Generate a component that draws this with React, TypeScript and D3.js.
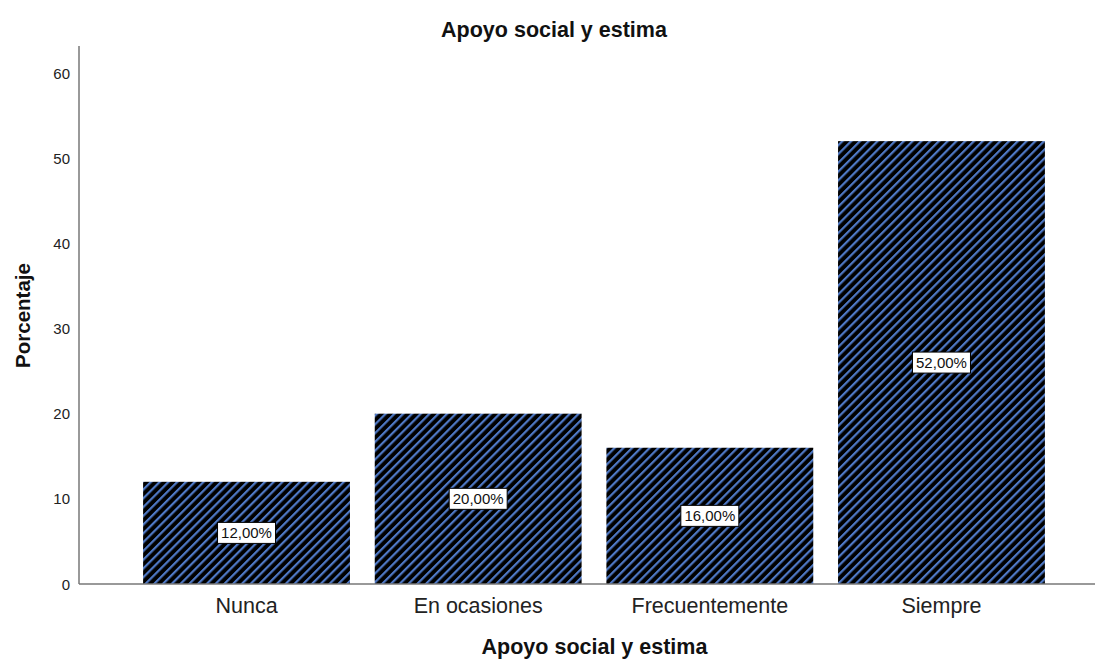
import React from "react";
import * as d3 from "d3";

const categories = ["Nunca", "En ocasiones", "Frecuentemente", "Siempre"];
const values = [12, 20, 16, 52];
const labels = ["12,00%", "20,00%", "16,00%", "52,00%"];
const yTicks = [0, 10, 20, 30, 40, 50, 60];

const W = 1096;
const H = 659;
const axisX = 79;
const axisY0 = 584;
const axisTop = 46;

export default function App() {
  const y = d3.scaleLinear().domain([0, 60]).range([axisY0, 73]);
  const x = d3
    .scaleBand<string>()
    .domain(categories)
    .range([130.7, 1057.3])
    .paddingInner(0.107)
    .paddingOuter(0.0535);
  const font = "Arial, 'Liberation Sans', sans-serif";
  return (
    <svg
      width={W}
      height={H}
      style={{ position: "absolute", left: 0, top: 0, background: "#fff" }}
      fontFamily={font}
    >
      <defs>
        <pattern
          id="hatch"
          patternUnits="userSpaceOnUse"
          width={6.2}
          height={6.2}
          patternTransform="rotate(45)"
        >
          <rect width={6.2} height={6.2} fill="#000" />
          <rect x={0} y={0} width={2.2} height={6.2} fill="#4f79c6" />
        </pattern>
      </defs>
      <text x={554} y={37} textAnchor="middle" fontSize={21.5} fontWeight="bold" fill="#111">
        Apoyo social y estima
      </text>
      {categories.map((c, i) => {
        const bx = x(c)!;
        const bw = x.bandwidth();
        const top = y(values[i]);
        const mid = y(values[i] / 2);
        const lw = 58;
        return (
          <g key={c}>
            <rect x={bx} y={top} width={bw} height={axisY0 - top} fill="url(#hatch)" />
            <rect
              x={bx + bw / 2 - lw / 2}
              y={mid - 10.5}
              width={lw}
              height={21}
              fill="#fff"
              stroke="#000"
              strokeWidth={1}
            />
            <text x={bx + bw / 2} y={mid + 5.5} textAnchor="middle" fontSize={15} fill="#111">
              {labels[i]}
            </text>
            <text x={bx + bw / 2} y={613} textAnchor="middle" fontSize={21.5} fill="#222">
              {c}
            </text>
          </g>
        );
      })}
      <line x1={axisX} x2={axisX} y1={axisTop} y2={axisY0} stroke="#777" strokeWidth={1.5} />
      <line x1={axisX} x2={1095} y1={axisY0} y2={axisY0} stroke="#777" strokeWidth={1.5} />
      {yTicks.map((t) => (
        <text key={t} x={70} y={y(t) + 5.5} textAnchor="end" fontSize={15} fill="#222">
          {t}
        </text>
      ))}
      <text
        transform={`translate(30, ${315.5}) rotate(-90)`}
        textAnchor="middle"
        fontSize={20.5}
        fontWeight="bold"
        fill="#111"
      >
        Porcentaje
      </text>
      <text x={594.5} y={654} textAnchor="middle" fontSize={21.5} fontWeight="bold" fill="#111">
        Apoyo social y estima
      </text>
    </svg>
  );
}
